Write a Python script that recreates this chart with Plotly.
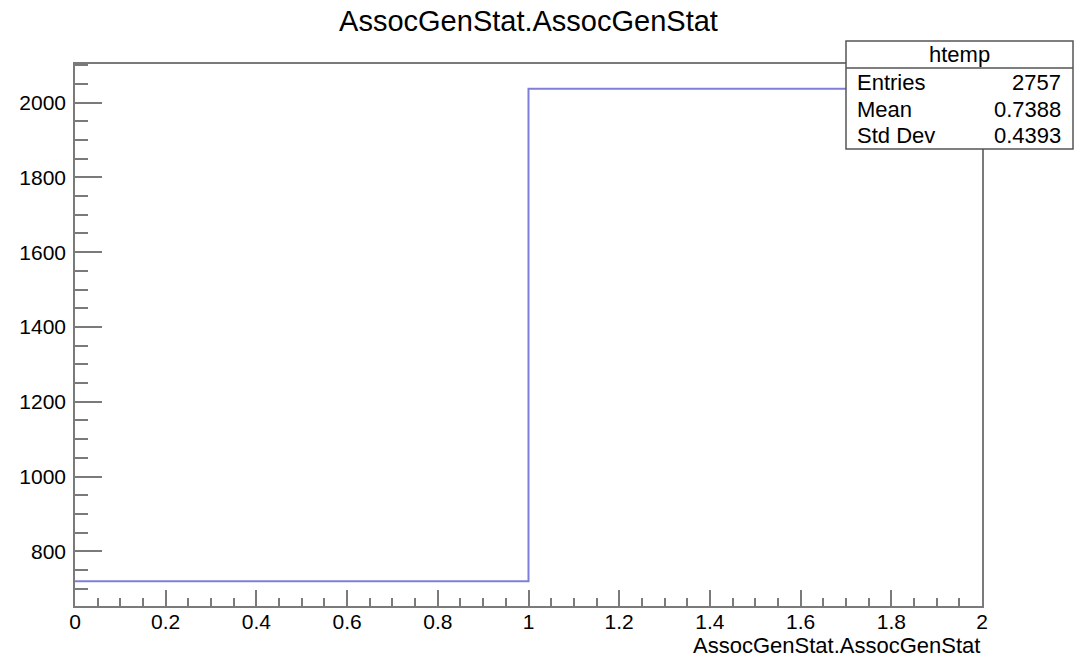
import plotly.graph_objects as go

# ---- data ----
bin_edges = [0, 1, 2]
bin_counts = [720, 2037]
title_text = "AssocGenStat.AssocGenStat"
x_title = "AssocGenStat.AssocGenStat"
stats_name = "htemp"
stats_labels = ["Entries", "Mean", "Std Dev"]
stats_values = ["2757", "0.7388", "0.4393"]
y_range = [654, 2103]
x_range = [0, 2]

# page has an 8px body margin: lay out in screen pixels, shifted by it
OFF = 8
W, H = 1086 - OFF, 658 - OFF
L, R, T, B = 75 - OFF, 982 - OFF, 64 - OFF, 606 - OFF
PW, PH = R - L, B - T

def px(x):
    return (x - OFF - L) / PW

def py(y):
    return (B - (y - OFF)) / PH

FONT = "Liberation Sans, Arial, Helvetica, sans-serif"
AX = "#7a7a7a"

fig = go.Figure()
fig.add_trace(go.Scatter(
    x=bin_edges,
    y=bin_counts + [bin_counts[-1]],
    mode="lines",
    line=dict(shape="hv", color="#7f7fd8", width=2),
    hoverinfo="skip",
    showlegend=False,
))

fig.update_layout(
    width=W, height=H,
    margin=dict(l=L, r=W - R, t=T, b=H - B),
    paper_bgcolor="white",
    plot_bgcolor="white",
    font=dict(family=FONT, color="black", size=21),
    showlegend=False,
    title=dict(text=title_text, x=((L + R) / 2) / W, xanchor="center",
               y=1 - (21 - OFF) / H, yanchor="middle",
               font=dict(size=29, family=FONT, color="black")),
)

fig.update_xaxes(
    range=x_range, dtick=0.2, tick0=0,
    showgrid=False, zeroline=False,
    showline=True, linecolor=AX, linewidth=1.5, mirror=True,
    ticks="inside", ticklen=16, tickwidth=1.5, tickcolor=AX,
    minor=dict(dtick=0.05, ticks="inside", ticklen=8, tickwidth=1.5, tickcolor=AX, showgrid=False),
    tickfont=dict(size=21, family=FONT, color="black"),
    tickformat="~g",
    ticklabelstandoff=-4,
)
fig.update_yaxes(
    range=y_range, dtick=200, tick0=0,
    showgrid=False, zeroline=False,
    showline=True, linecolor=AX, linewidth=1.5, mirror=True,
    ticks="inside", ticklen=27, tickwidth=1.5, tickcolor=AX,
    minor=dict(dtick=50, ticks="inside", ticklen=13, tickwidth=1.5, tickcolor=AX, showgrid=False),
    tickfont=dict(size=21, family=FONT, color="black"),
    ticklabelstandoff=3,
)

# x-axis title (right aligned, ROOT style)
fig.add_annotation(text=x_title, xref="paper", yref="paper",
                   x=1, xanchor="right", y=py(645), yanchor="middle",
                   showarrow=False, font=dict(size=22, family=FONT, color="black"))

# stats box
bx0, bx1, by0, by1, bsep = 846, 1073, 41, 149, 68
fig.add_shape(type="rect", xref="paper", yref="paper",
              x0=px(bx0), x1=px(bx1), y0=py(by1), y1=py(by0),
              fillcolor="white", line=dict(color="#555", width=1.5), layer="above")
fig.add_shape(type="line", xref="paper", yref="paper",
              x0=px(bx0), x1=px(bx1), y0=py(bsep), y1=py(bsep),
              line=dict(color="#555", width=1.5), layer="above")
fig.add_annotation(text=stats_name, xref="paper", yref="paper",
                   x=px((bx0 + bx1) / 2), xanchor="center", y=py(55), yanchor="middle",
                   showarrow=False, font=dict(size=22, family=FONT, color="black"))
row_y = [83, 110, 136]
for lab, val, yy in zip(stats_labels, stats_values, row_y):
    fig.add_annotation(text=lab, xref="paper", yref="paper",
                       x=px(855), xanchor="left", y=py(yy), yanchor="middle",
                       showarrow=False, font=dict(size=22, family=FONT, color="black"))
    fig.add_annotation(text=val, xref="paper", yref="paper",
                       x=px(1063), xanchor="right", y=py(yy), yanchor="middle",
                       showarrow=False, font=dict(size=22, family=FONT, color="black"))

fig.write_html("out.html")
